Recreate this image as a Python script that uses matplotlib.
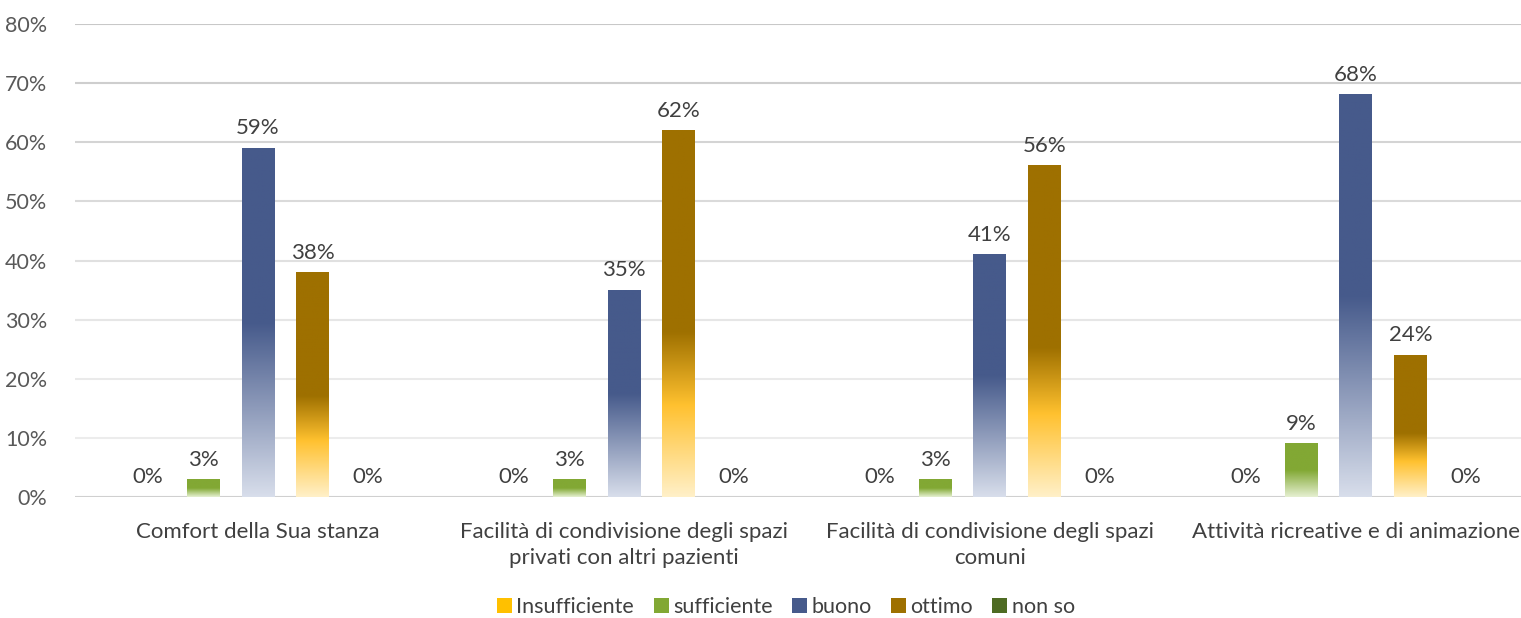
import numpy as np
import matplotlib.pyplot as plt
from matplotlib.colors import LinearSegmentedColormap
from matplotlib.patches import Patch

plt.rcParams['font.family'] = ['Lato', 'DejaVu Sans']

categories = ['Comfort della Sua stanza',
              'Facilità di condivisione degli spazi\nprivati con altri pazienti',
              'Facilità di condivisione degli spazi\ncomuni',
              'Attività ricreative e di animazione']
series = ['Insufficiente', 'sufficiente', 'buono', 'ottimo', 'non so']
insufficiente = [0, 0, 0, 0]
sufficiente = [3, 3, 3, 9]
buono = [59, 35, 41, 68]
ottimo = [38, 62, 56, 24]
non_so = [0, 0, 0, 0]
values = [insufficiente, sufficiente, buono, ottimo, non_so]

# gradient stops, position 0 = bottom of bar, 1 = top
grads = [
    [(0, '#ffe9b3'), (0.5, '#ffc000'), (1, '#ffc000')],
    [(0, '#e6f0d2'), (0.5, '#82a834'), (1, '#82a834')],
    [(0, '#d8deeb'), (0.5, '#465a8b'), (1, '#465a8b')],
    [(0, '#fff0c8'), (0.25, '#ffc12f'), (0.45, '#9e7000'), (1, '#9e7000')],
    [(0, '#d5e3bd'), (0.5, '#4e6b23'), (1, '#4e6b23')],
]
cmaps = [LinearSegmentedColormap.from_list(s, g) for s, g in zip(series, grads)]

fig = plt.figure(figsize=(15.21, 6.18), dpi=100)
ax = fig.add_axes([75 / 1521, 1 - 497 / 618, 1446 / 1521, 473 / 618])

x = np.arange(len(categories))
slot = 0.15
width = 0.09
grad_img = np.linspace(0, 1, 256).reshape(-1, 1)

for i, (name, vals) in enumerate(zip(series, values)):
    pos = x + (i - 2) * slot
    bars = ax.bar(pos, vals, width, color='none', zorder=3)
    for b, v in zip(bars, vals):
        if v > 0:
            ax.imshow(grad_img, extent=[b.get_x(), b.get_x() + b.get_width(), 0, v],
                      origin='lower', aspect='auto', cmap=cmaps[i], zorder=3)
        ax.annotate(f'{v}%', (b.get_x() + b.get_width() / 2, v), xytext=(0, 7),
                    textcoords='offset points', ha='center', va='bottom',
                    fontsize=16, color='#404040')

ax.set_xlim(-0.5, 3.451)
ax.set_ylim(0, 80)
yt = np.arange(0, 81, 10)
ax.set_yticks(yt)
ax.set_yticklabels([f'{t}%' for t in yt], fontsize=15.5, color='#595959')
grid_cols = ['#d0d0d0', '#ececec', '#eaeaea', '#e6e6e6', '#e0e0e0', '#dadada', '#d4d4d4', '#cecece', '#c8c8c8']
for t, c in zip(yt, grid_cols):
    ax.axhline(t, color=c, linewidth=1.5, zorder=1)

ax.set_xticks(x)
ax.set_xticklabels(categories, fontsize=16, color='#404040', linespacing=1.4)
ax.tick_params(length=0)
ax.tick_params(axis='x', pad=18)
ax.tick_params(axis='y', pad=20)
for s in ax.spines.values():
    s.set_visible(False)

solid = ['#ffc000', '#82a834', '#465a8b', '#9e7000', '#4e6b23']
handles = [Patch(facecolor=c, label=s) for c, s in zip(solid, series)]
fig.legend(handles=handles, loc='center', bbox_to_anchor=(786 / 1521, 1 - 607 / 618),
           ncol=5, frameon=False, fontsize=15.5, handlelength=0.7, handleheight=0.7,
           handletextpad=0.2, columnspacing=0.9, labelcolor='#404040')

fig.savefig('out.png', dpi=100)
